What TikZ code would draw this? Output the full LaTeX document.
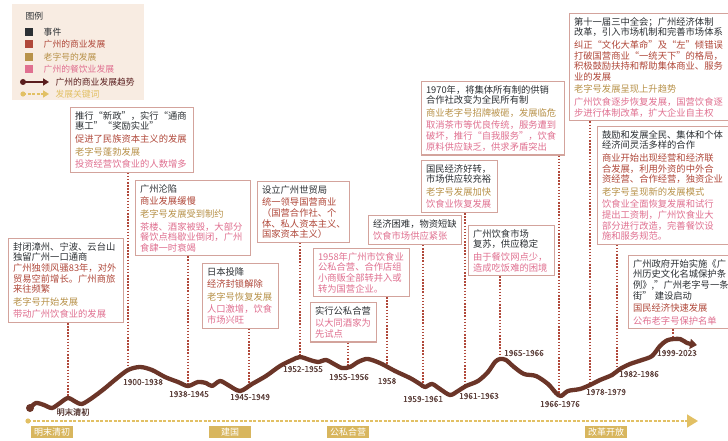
\documentclass[tikz,border=0pt]{standalone}
\usepackage{fontspec}
\setmainfont{Noto Sans CJK SC}
\newfontfamily\datefont{Noto Sans CJK SC}[FakeBold=0.4]
\usetikzlibrary{positioning,arrows.meta}

\definecolor{evtcol}{HTML}{2B2F33}
\definecolor{comcol}{HTML}{B0483A}
\definecolor{oldcol}{HTML}{B8924A}
\definecolor{foodcol}{HTML}{E07090}
\definecolor{trendcol}{HTML}{6B3528}
\definecolor{darkcol}{HTML}{5A1E1E}
\definecolor{keycol}{HTML}{E2C064}
\definecolor{framecol}{HTML}{D3A39C}
\definecolor{legendbg}{HTML}{F8ECE2}
\definecolor{tagcol}{HTML}{D8B65E}
\definecolor{datecol}{HTML}{5A3D38}

\newcommand{\evtxt}[1]{\textcolor{evtcol}{#1}}
\newcommand{\comtxt}[1]{\textcolor{comcol}{#1}}
\newcommand{\oldtxt}[1]{\textcolor{oldcol}{#1}}
\newcommand{\foodtxt}[1]{\textcolor{foodcol}{#1}}

\begin{document}
\begin{tikzpicture}[x=1pt, y=-1pt,
    mybox/.style={rectangle, draw=framecol, line width=1.1pt, fill=white, anchor=north west, align=left,
      inner xsep=4.5pt, inner ysep=3.8pt, font=\fontsize{9.3}{10.6}\selectfont},
    mydate/.style={text=datecol, font=\datefont\fontsize{8.3}{9}\selectfont, inner sep=1pt},
    mytag/.style={fill=tagcol, text=white, minimum width=42pt, minimum height=12pt, inner sep=0pt,
      font=\fontsize{9}{10}\selectfont},
    myconn/.style={draw=comcol, line width=1.7pt, dash pattern=on 1.5pt off 1.6pt},
    mykey/.style={rectangle, minimum size=8pt, inner sep=0pt},
    mylegend/.style={anchor=west, font=\fontsize{8.8}{10}\selectfont}]
  \useasboundingbox (0,0) rectangle (728,441);
  \clip (0,0) rectangle (728,441);

  % legend
  \fill[legendbg] (12,4) rectangle (144,100);
  \node[mylegend, text=evtcol] (legtitle) at (22,16) {图例};
  \node[mykey, fill=evtcol] (k1) at (29,32) {};
  \node[mylegend, text=evtcol, right=7pt of k1] {事件};
  \node[mykey, fill=comcol] (k2) at (29,44) {};
  \node[mylegend, text=comcol, right=7pt of k2] {广州的商业发展};
  \node[mykey, fill=oldcol] (k3) at (29,57) {};
  \node[mylegend, text=oldcol, right=7pt of k3] {老字号的发展};
  \node[mykey, fill=foodcol] (k4) at (29,69) {};
  \node[mylegend, text=foodcol, right=7pt of k4] {广州的餐饮业发展};
  \coordinate (t1) at (23,82);
  \coordinate (t2) at (49,82);
  \fill[darkcol] (t1) circle (3pt);
  \draw[darkcol, line width=2.4pt, -{Triangle[length=6pt,width=7pt]}] (t1) -- (t2);
  \node[mylegend, text=darkcol, right=3pt of t2] {广州的商业发展趋势};
  \coordinate (s1) at (23,94);
  \coordinate (s2) at (49,94);
  \fill[keycol] (s1) circle (2.6pt);
  \draw[keycol, line width=1.6pt, dash pattern=on 3pt off 1.5pt, -{Triangle[length=6pt,width=7pt]}] (s1) -- (s2);
  \node[mylegend, text=keycol, right=3pt of s2] {发展关键词};

  % points on the trend line
  \coordinate (c1) at (68,398);
  \coordinate (c2) at (128,370);
  \coordinate (c3) at (188,386);
  \coordinate (c4) at (249,386);
  \coordinate (c5) at (300,357);
  \coordinate (c6) at (348,367);
  \coordinate (c7) at (387,367);
  \coordinate (c8) at (423,386);
  \coordinate (c9) at (465,387);
  \coordinate (c10) at (500,359);
  \coordinate (c11) at (559,395);
  \coordinate (c12) at (590,385);
  \coordinate (c13) at (617,371);
  \coordinate (c14) at (673,340);

  % boxes
  \node[mybox, text width=106pt] (guard) at (8,238) {\evtxt{封闭漳州、宁波、云台山\\独留广州一口通商}\\
    \comtxt{广州独领风骚83年，对外\\贸易空前增长。广州商旅\\来往频繁}\\[2pt]
    \oldtxt{老字号开始发展}\\[2pt]\foodtxt{带动广州饮食业的发展}};
  \node[mybox, text width=114pt] (newpol) at (70,107) {\evtxt{推行“新政”，实行“通商\\惠工”“奖励实业”}\\[2pt]
    \comtxt{促进了民族资本主义的发展}\\[2pt]\oldtxt{老字号蓬勃发展}\\[2pt]\foodtxt{投资经营饮食业的人数增多}};
  \node[mybox, text width=106pt] (fall) at (135,180) {\evtxt{广州沦陷}\\[2pt]\comtxt{商业发展缓慢}\\[2pt]
    \oldtxt{老字号发展受到制约}\\[2pt]\foodtxt{茶楼、酒家被毁，大部分\\餐饮点档歇业倒闭，广州\\食肆一时衰竭}};
  \node[mybox, text width=67pt] (surr) at (202,263) {\evtxt{日本投降}\\[2pt]\comtxt{经济封锁解除}\\[2pt]
    \oldtxt{老字号恢复发展}\\[2pt]\foodtxt{人口激增，饮食\\市场兴旺}};
  \node[mybox, text width=83pt] (bureau) at (257,181) {\evtxt{设立广州世贸局}\\[2pt]
    \comtxt{统一领导国营商业\\（国营合作社、个\\体、私人资本主义、\\国家资本主义）}};
  \node[mybox, text width=87pt] (merge) at (313,248) {\foodtxt{1958年广州市饮食业\\公私合营、合作店组\\小商贩全部转并入或\\转为国营企业。}};
  \node[mybox, text width=57pt] (pilot) at (310,302) {\evtxt{实行公私合营}\\[2pt]\foodtxt{以大同酒家为\\先试点}};
  \node[mybox, text width=84pt] (hard) at (368,215) {\evtxt{经济困难，物资短缺}\\[2pt]\foodtxt{饮食市场供应紧张}};
  \node[mybox, text width=67pt] (recover) at (421,160) {\evtxt{国民经济好转，\\市场供应较充裕}\\[2pt]
    \oldtxt{老字号发展加快}\\[2pt]\foodtxt{饮食业恢复发展}};
  \node[mybox, text width=77pt] (market) at (468,225) {\evtxt{广州饮食市场\\复苏，供应稳定}\\[2pt]
    \foodtxt{由于餐饮网点少，\\造成吃饭难的困境}};
  \node[mybox, text width=134pt] (y1970) at (421,81) {\evtxt{1970年，将集体所有制的供销\\合作社改变为全民所有制}\\[2pt]
    \oldtxt{商业老字号招牌被砸，发展临危}\\[2pt]
    \foodtxt{取消茶市等优良传统，服务遭到\\破坏，推行“自我服务”，饮食\\原料供应缺乏，供求矛盾突出}};
  \node[mybox, text width=170pt] (plenum) at (569,13) {\evtxt{第十一届三中全会；广州经济体制\\改革，引入市场机制和完善市场体系}\\[2pt]
    \comtxt{纠正“文化大革命”及“左”倾错误\\打破国营商业“一统天下”的格局，\\积极鼓励扶持和帮助集体商业、服务\\业的发展}\\[2pt]
    \oldtxt{老字号发展呈现上升趋势}\\[2pt]\foodtxt{广州饮食逐步恢复发展，国营饮食逐\\步进行体制改革，扩大企业自主权}};
  \node[mybox, text width=140pt] (reform) at (597,126) {\evtxt{鼓励和发展全民、集体和个体\\经济间灵活多样的合作}\\[2pt]
    \comtxt{商业开始出现经营和经济联\\合发展，利用外资的中外合\\资经营、合作经营，独资企业}\\[2pt]
    \oldtxt{老字号呈现新的发展模式}\\[2pt]
    \foodtxt{饮食业全面恢复发展和试行\\提出工资制，广州饮食业大\\部分进行改造，完善餐饮设\\施和服务规范。}};
  \node[mybox, text width=120pt] (protect) at (628,255) {\evtxt{广州政府开始实施《广\\州历史文化名城保护条\\例》,"广州老字号一条\\街" 建设启动}\\[2pt]
    \comtxt{国民经济快速发展}\\[2pt]\foodtxt{公布老字号保护名单}};

  % connectors
  \draw[myconn] (guard.south -| c1) -- (c1);
  \draw[myconn] (newpol.south -| c2) -- (c2);
  \draw[myconn] (fall.south -| c3) -- (c3);
  \draw[myconn] (surr.south -| c4) -- (c4);
  \draw[myconn] (bureau.south -| c5) -- (c5);
  \draw[myconn] (pilot.south -| c6) -- (c6);
  \draw[myconn] (merge.south -| c7) -- (c7);
  \draw[myconn] (hard.south -| c8) -- (c8);
  \draw[myconn] (recover.south -| c9) -- (c9);
  \draw[myconn] (market.south -| c10) -- (c10);
  \draw[myconn] (y1970.south -| c11) -- (c11);
  \draw[myconn] (plenum.south -| c12) -- (c12);
  \draw[myconn] (reform.south -| c13) -- (c13);
  \draw[myconn] (protect.south -| c14) -- (c14);

  % trend line
  \fill[trendcol] (30,408) circle (4pt);
  \draw[trendcol, line width=4.3pt, line cap=round, line join=round, -{Triangle[length=7pt,width=10pt]}]
    plot[smooth, tension=0.5] coordinates {(30,408) (36,403) (44,405) (52,408) (60,403) (68,398) (76,402)
    (82,404) (92,398) (104,389) (116,379) (128,370) (140,367) (152,370) (165,377) (178,382) (188,386)
    (198,382) (206,383) (212,386) (220,381) (228,385) (240,391) (252,384) (266,376) (280,366) (292,360)
    (300,357) (310,360) (318,362) (326,360) (334,364) (342,368) (350,367) (358,362) (366,359) (372,360)
    (382,364) (395,371) (410,378) (420,384) (425,387) (432,384) (440,389) (450,395) (458,391) (466,386)
    (478,381) (488,372) (495,362) (500,359) (506,360) (514,367) (524,374) (536,376) (548,384) (556,393)
    (561,396) (568,391) (580,389) (590,385) (600,380) (612,375) (620,369) (630,364) (642,360) (652,356)
    (660,346) (668,340) (680,339) (687,343) (697,345)};

  % dates
  \node[mydate] (d1) at (73,412) {明末清初};
  \node[mydate] (d2) at (143,382) {1900-1938};
  \node[mydate] (d3) at (189,394) {1938-1945};
  \node[mydate] (d4) at (250,397) {1945-1949};
  \node[mydate] (d5) at (303,369) {1952-1955};
  \node[mydate] (d6) at (349,377) {1955-1956};
  \node[mydate] (d7) at (387,381) {1958};
  \node[mydate] (d8) at (423,399) {1959-1961};
  \node[mydate] (d9) at (479,396) {1961-1963};
  \node[mydate] (d10) at (524,353) {1965-1966};
  \node[mydate] (d11) at (560,404) {1966-1976};
  \node[mydate] (d12) at (606,392) {1978-1979};
  \node[mydate] (d13) at (639,374) {1982-1986};
  \node[mydate] (d14) at (677,353) {1999-2023};

  % key words
  \coordinate (kstart) at (28,421);
  \coordinate (kend) at (698,421);
  \fill[keycol] (kstart) circle (2.6pt);
  \draw[keycol, line width=1.6pt, dash pattern=on 3pt off 1.5pt, -{Triangle[length=11pt,width=13pt]}] (kstart) -- (kend);
  \node[mytag] (tag1) at (52,432) {明末清初};
  \node[mytag] (tag2) at (230,432) {建国};
  \node[mytag] (tag3) at (348,432) {公私合营};
  \node[mytag] (tag4) at (606,432) {改革开放};
\end{tikzpicture}
\end{document}
